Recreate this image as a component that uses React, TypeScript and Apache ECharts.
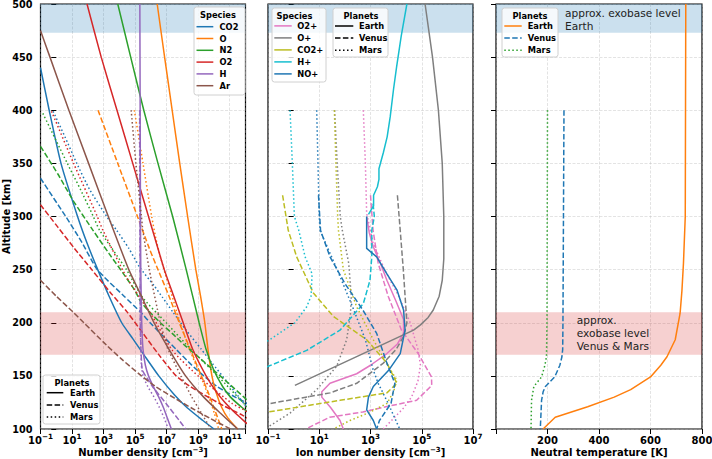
import { useEffect, useRef } from 'react';
import * as echarts from 'echarts';

type Pt = [number, number]; // [altitude km, value]

// ---------- Panel 1: neutral number density, [altitude km, log10 n (cm^-3)] ----------
const CO2_EARTH: Pt[] = [[440,-1],[400,-0.45],[350,0.3],[300,1.35],[275,1.95],[250,2.63],[225,3.35],[200,4.15],[185,4.85],[170,5.55],[150,6.5],[132,7.5],[120,8.3],[108,9.3],[100,10.0]];
const O_EARTH: Pt[] = [[500,6.4],[450,6.87],[400,7.35],[350,7.83],[300,8.33],[250,8.85],[225,9.15],[200,9.42],[175,9.62],[150,9.87],[135,10.12],[120,10.5],[110,10.9],[100,11.5]];
const N2_EARTH: Pt[] = [[500,3.9],[450,4.72],[400,5.55],[350,6.45],[300,7.38],[250,8.24],[200,9.06],[175,9.5],[155,10.0],[140,10.55],[130,11.05],[120,11.8],[112,12.5]];
const O2_EARTH: Pt[] = [[500,1.95],[450,2.85],[400,3.85],[350,4.85],[300,5.85],[250,6.85],[225,7.45],[200,8.05],[175,8.65],[150,9.5],[135,10.15],[125,10.7],[115,11.35],[107,11.95],[100,12.5]];
const H_EARTH: Pt[] = [[500,5.3],[400,5.32],[300,5.34],[250,5.36],[200,5.42],[175,5.5],[160,5.65],[150,5.85],[140,6.15],[130,6.5],[120,6.8],[110,7.05],[100,7.3]];
const AR_EARTH: Pt[] = [[475,-1],[450,-0.4],[400,0.8],[350,2.05],[300,3.3],[250,4.6],[225,5.4],[200,6.2],[175,7.15],[150,8.2],[130,9.35],[115,10.4],[100,11.5]];

const CO2_VENUS: Pt[] = [[336,-1],[300,0.6],[275,1.65],[250,2.6],[225,4.3],[210,5.35],[200,5.95],[190,6.6],[175,7.6],[160,8.6],[150,9.35],[140,10.2],[130,11.35],[125,12.0],[120,12.5]];
const O_VENUS: Pt[] = [[400,2.65],[350,3.9],[300,5.15],[270,5.9],[250,6.45],[225,7.15],[200,7.8],[175,8.5],[150,9.2],[135,9.62],[120,10.0],[100,10.5]];
const N2_VENUS: Pt[] = [[366,-1],[340,0.1],[315,1.07],[287,2.33],[265,3.35],[247,4.22],[230,5.0],[220,5.35],[212,5.8],[200,6.6],[190,7.35],[178,8.2],[168,9.0],[157,9.85],[146,10.7],[138,11.3],[130,11.9],[122,12.5]];
const O2_VENUS: Pt[] = [[311,-1],[290,0.1],[270,1.15],[250,2.25],[229,3.4],[210,4.5],[190,5.5],[170,6.5],[150,7.6],[140,8.5],[132,9.4],[122,10.6],[113,11.8],[106,12.6]];
const H_VENUS: Pt[] = [[400,5.3],[300,5.31],[200,5.33],[175,5.37],[160,5.42],[155,5.47],[148,5.75],[140,6.1],[124,6.96],[108,7.8],[100,8.2]];
const AR_VENUS: Pt[] = [[240,-1],[225,0.0],[210,1.07],[200,1.75],[179,3.18],[165,4.2],[150,5.4],[140,6.3],[129,7.5],[120,8.55],[110,9.75],[100,11.05]];

const CO2_MARS: Pt[] = [[399,-0.2],[375,0.55],[350,1.3],[325,2.13],[300,3.2],[287,3.83],[270,4.6],[252,5.3],[235,6.2],[224,6.73],[210,7.4],[193,8.24],[175,9.2],[162,9.88],[145,10.8],[124,11.9],[115,12.4]];
const O_MARS: Pt[] = [[400,4.95],[350,5.5],[300,6.05],[275,6.38],[250,6.83],[225,7.35],[200,7.85],[175,8.45],[150,9.15],[130,9.68],[115,10.02],[100,10.3]];
const N2_MARS: Pt[] = [[397,-0.85],[350,0.7],[325,1.55],[300,2.35],[287,2.75],[250,4.45],[224,5.46],[200,6.97],[174,8.6],[149,10.3],[124,11.9],[118,12.3]];
const O2_MARS: Pt[] = [[399,-0.3],[350,1.1],[300,2.6],[287,2.96],[243,4.45],[206,6.1],[174,7.36],[149,9.06],[124,11.15],[118,11.9],[112,12.5]];
const H_MARS: Pt[] = [[400,5.28],[300,5.3],[200,5.33],[160,5.4],[150,5.5],[140,5.8],[130,6.2],[120,6.55],[110,6.85],[100,7.1]];
const AR_MARS: Pt[] = [[400,4.75],[350,5.05],[300,5.4],[287,5.49],[250,5.9],[200,6.6],[175,7.1],[150,7.9],[130,8.6],[115,9.2],[100,9.8]];

// ---------- Panel 2: ion number density, [altitude km, log10 n (cm^-3)] ----------
const O2P_EARTH: Pt[] = [[300,2.85],[285,2.95],[272,3.1],[255,3.4],[240,3.64],[220,4.0],[203,4.29],[190,4.29],[180,4.05],[171,3.64],[160,3.0],[152,2.46],[143,1.42],[135,1.1],[130,1.1],[120,1.45],[108,1.81],[100,1.94]];
const OP_EARTH: Pt[] = [[500,5.13],[450,5.42],[400,5.65],[350,5.8],[300,5.86],[260,5.86],[240,5.8],[225,5.68],[212,5.45],[205,5.25],[198,4.95],[193,4.68],[141,0.05]];
const HP_EARTH: Pt[] = [[500,4.42],[470,4.2],[441,4.02],[420,3.9],[394,3.77],[375,3.65],[360,3.5],[345,3.33],[335,3.33],[328,3.27],[320,3.12],[310,3.12],[302,2.92]];
const NOP_EARTH: Pt[] = [[300,2.85],[270,2.85],[262,3.24],[246,3.64],[231,4.03],[212,4.29],[193,4.35],[171,4.16],[155,3.7],[140,3.11],[130,2.92],[118,2.85],[108,3.11],[100,3.24]];

const O2P_VENUS: Pt[] = [[320,3.0],[287,3.1],[256,3.3],[225,3.69],[193,4.21],[171,4.86],[149,5.38],[141,5.39],[127,4.8],[121,3.6],[116,2.7],[111,1.4],[102,0.64],[100,0.5]];
const OP_VENUS: Pt[] = [[320,4.05],[287,4.16],[250,4.28],[225,4.35],[200,4.42],[187,4.29],[175,4.0],[162,3.5],[150,2.85],[143,2.46],[134,1.42],[124,-0.92],[122,-1.2]];
const CO2P_VENUS: Pt[] = [[320,-0.43],[287,-0.21],[262,0.12],[228,0.77],[206,1.55],[184,2.85],[162,3.64],[143,4.03],[134,3.64],[127,1.81],[116,-0.99],[115,-1.2]];
const HP_VENUS: Pt[] = [[312,3.1],[300,3.15],[287,3.05],[262,3.05],[240,2.98],[218,2.72],[193,1.81],[174,0.51],[159,-0.99],[157,-1.2]];
const NOP_VENUS: Pt[] = [[320,0.97],[287,1.05],[262,1.42],[237,2.0],[212,2.7],[190,3.24],[162,3.64],[143,3.95],[124,3.8],[108,3.35],[100,3.24]];

const O2P_MARS: Pt[] = [[400,2.72],[350,2.8],[303,2.85],[275,3.1],[250,3.55],[225,4.1],[200,4.55],[175,4.85],[160,4.95],[145,4.85],[130,4.6],[120,4.3],[110,3.9],[100,3.5]];
const OP_MARS: Pt[] = [[400,1.6],[350,1.7],[300,1.82],[287,1.9],[256,2.15],[225,2.25],[209,2.22],[184,2.07],[159,1.68],[137,0.9],[115,-0.14],[102,-0.99],[100,-1.1]];
const CO2P_MARS: Pt[] = [[400,1.59],[350,1.65],[300,1.72],[287,1.75],[250,1.94],[215,2.46],[184,3.11],[156,3.77],[146,4.03],[135,3.9],[124,3.64],[115,2.9],[108,2.2],[100,1.55]];
const HP_MARS: Pt[] = [[400,-0.14],[350,-0.05],[300,0.03],[287,0.2],[262,0.45],[246,0.72],[225,0.68],[215,0.51],[200,0.05],[183,-1.0],[181,-1.2]];
const NOP_MARS: Pt[] = [[400,0.9],[350,0.95],[300,1.0],[287,1.03],[250,1.7],[215,2.3],[184,2.8],[156,3.1],[143,3.3],[124,3.69],[100,4.14]];

// ---------- Panel 3: neutral temperature, [altitude km, T (K)] ----------
const T_EARTH: Pt[] = [[500,737],[400,736],[300,735],[256,728],[230,722],[209,715],[184,696],[168,664],[160,640],[149,600],[137,523],[130,459],[121,356],[111,230],[100,183]];
const T_VENUS: Pt[] = [[400,264],[300,262],[200,260],[175,259],[168,256],[160,248],[149,228],[140,192],[135,183],[127,177],[100,172]];
const T_MARS: Pt[] = [[400,200],[300,199],[200,198],[168,196],[160,190],[149,177],[140,147],[127,138],[100,136]];

// exobase bands (km)
const EXOBASE_EARTH = [473, 500];
const EXOBASE_VENUS_MARS = [170, 210];

const NEUTRAL_SPECIES = ['CO2', 'O', 'N2', 'O2', 'H', 'Ar'];
const NEUTRAL_COLORS = ['#1f77b4', '#ff7f0e', '#2ca02c', '#d62728', '#9467bd', '#8c564b'];
const NEUTRAL_DATA: Pt[][][] = [
  [CO2_EARTH, CO2_VENUS, CO2_MARS],
  [O_EARTH, O_VENUS, O_MARS],
  [N2_EARTH, N2_VENUS, N2_MARS],
  [O2_EARTH, O2_VENUS, O2_MARS],
  [H_EARTH, H_VENUS, H_MARS],
  [AR_EARTH, AR_VENUS, AR_MARS],
];
const ION_SPECIES = ['O2+', 'O+', 'CO2+', 'H+', 'NO+'];
const ION_COLORS = ['#e377c2', '#7f7f7f', '#bcbd22', '#17becf', '#1f77b4'];
const ION_DATA: (Pt[] | null)[][] = [
  [O2P_EARTH, O2P_VENUS, O2P_MARS],
  [OP_EARTH, OP_VENUS, OP_MARS],
  [null, CO2P_VENUS, CO2P_MARS],
  [HP_EARTH, HP_VENUS, HP_MARS],
  [NOP_EARTH, NOP_VENUS, NOP_MARS],
];
const PLANETS = ['Earth', 'Venus', 'Mars'];
const TEMP_DATA = [T_EARTH, T_VENUS, T_MARS];
const TEMP_COLORS = ['#ff7f0e', '#1f77b4', '#2ca02c'];

const FONT = 'DejaVu Sans';
const DASHES: any[] = ['solid', [5.5, 2.4], [1.5, 2.5]];

function mkLine(data: Pt[], color: string, dash: any, idx: number, smooth: boolean) {
  return {
    type: 'line',
    xAxisIndex: idx,
    yAxisIndex: idx,
    data: data.map(([alt, v]) => [v, alt]),
    symbol: 'none',
    showSymbol: false,
    smooth: smooth ? 0.2 : false,
    lineStyle: { color, width: 1.5, type: dash },
    silent: true,
    clip: true,
    z: 3,
    animation: false,
  };
}

function bandSeries(idx: number) {
  return {
    type: 'line',
    xAxisIndex: idx,
    yAxisIndex: idx,
    data: [],
    silent: true,
    z: 1,
    markArea: {
      silent: true,
      data: [
        [{ yAxis: EXOBASE_EARTH[0], itemStyle: { color: 'rgba(31,119,180,0.23)' } }, { yAxis: EXOBASE_EARTH[1] }],
        [{ yAxis: EXOBASE_VENUS_MARS[0], itemStyle: { color: 'rgba(214,39,40,0.22)' } }, { yAxis: EXOBASE_VENUS_MARS[1] }],
      ],
    },
  };
}

const supRich = {
  b: { fontFamily: FONT, fontWeight: 'bold', fontSize: 10, color: '#000', verticalAlign: 'bottom', lineHeight: 12.5 },
  s: { fontFamily: FONT, fontWeight: 'bold', fontSize: 7.2, color: '#000', verticalAlign: 'top', lineHeight: 12.5 },
};
const nameRich = {
  n: { fontFamily: FONT, fontWeight: 'bold', fontSize: 10, color: '#000', verticalAlign: 'bottom', lineHeight: 11 },
  s: { fontFamily: FONT, fontWeight: 'bold', fontSize: 7, color: '#000', verticalAlign: 'top', lineHeight: 11 },
};

const splitLine = { show: true, lineStyle: { color: 'rgba(176,176,176,0.45)', width: 0.8, type: [3, 1.5] } };
const tick = { show: true, length: 5, lineStyle: { color: '#000', width: 1 } };

function logXAxis(idx: number, min: number, max: number, name: string) {
  return {
    type: 'value', gridIndex: idx, min, max, interval: 2,
    name, nameLocation: 'middle', nameGap: 17.5, nameMoveOverlap: false,
    nameTextStyle: { rich: nameRich, lineHeight: 11 },
    axisLine: { show: false },
    axisTick: tick,
    splitLine,
    axisLabel: {
      margin: 4,
      formatter: (v: number) => {
        if (Math.abs(((v - min) % 2)) > 1e-6) return '';
        const e = v < 0 ? '\u2212' + Math.abs(v) : String(v);
        return `{b|10}{s|${e}}`;
      },
      rich: supRich,
    },
  };
}

function yAxis(idx: number, labels: boolean) {
  return {
    type: 'value', gridIndex: idx, min: 100, max: 500, interval: 50,
    name: labels ? 'Altitude [km]' : '',
    nameLocation: 'middle', nameGap: 29, nameMoveOverlap: false,
    nameTextStyle: { fontFamily: FONT, fontWeight: 'bold', fontSize: 10, color: '#000', lineHeight: 11 },
    axisLine: { show: false },
    axisTick: tick,
    splitLine,
    axisLabel: { show: labels, margin: 8, fontFamily: FONT, fontWeight: 'bold', fontSize: 9.7, color: '#000' },
  };
}

function legendBox(x: number, y: number, w: number, h: number, title: string, titleX: number,
  entries: { label: string; color: string; dash: any }[], y0: number, dy: number, lx1: number, lx2: number, tx: number) {
  const els: any[] = [];
  els.push({ type: 'rect', z: 100, shape: { x, y, width: w, height: h, r: 2.5 },
    style: { fill: 'rgba(255,255,255,0.8)', stroke: '#d0d0d0', lineWidth: 1 } });
  els.push({ type: 'text', z: 101, x: titleX, y: y + 7.5,
    style: { text: title, fill: '#000', font: `bold 8.3px "${FONT}"`, align: 'center', verticalAlign: 'middle' } });
  entries.forEach((e, i) => {
    const yy = y0 + i * dy;
    els.push({ type: 'line', z: 101, shape: { x1: lx1, y1: yy, x2: lx2, y2: yy },
      style: { stroke: e.color, lineWidth: 1.5, lineDash: e.dash === 'solid' ? null : e.dash } });
    els.push({ type: 'text', z: 101, x: tx, y: yy,
      style: { text: e.label, fill: '#000', font: `bold 8.3px "${FONT}"`, align: 'left', verticalAlign: 'middle' } });
  });
  return els;
}

export default function App() {
  const ref = useRef<HTMLDivElement>(null);
  useEffect(() => {
    if (!ref.current) return;
    const chart = echarts.init(ref.current, undefined, { renderer: 'svg' });
    const series: any[] = [bandSeries(0), bandSeries(1), bandSeries(2)];
    NEUTRAL_DATA.forEach((planets, si) => {
      planets.forEach((d, pi) => series.push(mkLine(d, NEUTRAL_COLORS[si], DASHES[pi], 0, true)));
    });
    ION_DATA.forEach((planets, si) => {
      planets.forEach((d, pi) => { if (d) series.push(mkLine(d, ION_COLORS[si], DASHES[pi], 1, false)); });
    });
    TEMP_DATA.forEach((d, pi) => series.push(mkLine(d, TEMP_COLORS[pi], DASHES[pi], 2, false)));

    const black = PLANETS.map((p, i) => ({ label: p, color: '#000', dash: DASHES[i] }));
    const graphic: any[] = [
      ...legendBox(194, 7, 51, 88, 'Species', 218,
        NEUTRAL_SPECIES.map((s, i) => ({ label: s, color: NEUTRAL_COLORS[i], dash: 'solid' })), 26.7, 11.8, 196.5, 213.3, 219.5),
      ...legendBox(43, 375, 57, 49, 'Planets', 72, black, 392.7, 12.2, 46.7, 63.3, 70),
      ...legendBox(272, 8, 54, 74, 'Species', 294.5,
        ION_SPECIES.map((s, i) => ({ label: s, color: ION_COLORS[i], dash: 'solid' })), 25.9, 12.0, 274.3, 291.7, 297.3),
      ...legendBox(333, 8, 55, 49, 'Planets', 361, black, 26, 12.1, 335, 353.3, 359),
      ...legendBox(502, 8, 56, 49, 'Planets', 530,
        PLANETS.map((p, i) => ({ label: p, color: TEMP_COLORS[i], dash: DASHES[i] })), 26, 12.1, 504.3, 521.7, 527.7),
      { type: 'text', z: 102, x: 565, y: 6.6,
        style: { text: 'approx. exobase level\nEarth', fill: '#222', font: `10.6px "${FONT}"`, lineHeight: 12.7, align: 'left', verticalAlign: 'top' } },
      { type: 'text', z: 102, x: 576.7, y: 314,
        style: { text: 'approx.\nexobase level\nVenus & Mars', fill: '#222', font: `10.6px "${FONT}"`, lineHeight: 12.7, align: 'left', verticalAlign: 'top' } },
    ];

    chart.setOption({
      animation: false,
      backgroundColor: '#fff',
      textStyle: { fontFamily: FONT },
      grid: [
        { left: 40.5, top: 4, width: 205, height: 425, show: true, borderColor: '#000', borderWidth: 1.2, backgroundColor: 'transparent', containLabel: false, outerBoundsMode: 'none' },
        { left: 268, top: 4, width: 205, height: 425, show: true, borderColor: '#000', borderWidth: 1.2, backgroundColor: 'transparent', containLabel: false, outerBoundsMode: 'none' },
        { left: 496, top: 4, width: 206, height: 425, show: true, borderColor: '#000', borderWidth: 1.2, backgroundColor: 'transparent', containLabel: false, outerBoundsMode: 'none' },
      ],
      xAxis: [
        logXAxis(0, -1, 12, '{n|Number density [cm}{s|\u22123}{n|]}'),
        logXAxis(1, -1, 7, '{n|Ion number density [cm}{s|\u22123}{n|]}'),
        {
          type: 'value', gridIndex: 2, min: 0, max: 800, interval: 200,
          name: '{n|Neutral temperature [K]}', nameLocation: 'middle', nameGap: 17.5, nameMoveOverlap: false,
          nameTextStyle: { rich: nameRich, lineHeight: 11 },
          axisLine: { show: false }, axisTick: tick, splitLine,
          axisLabel: { margin: 4, formatter: (v: number) => (v === 0 ? '' : `{b|${v}}`), rich: supRich },
        },
      ],
      yAxis: [yAxis(0, true), yAxis(1, false), yAxis(2, false)],
      series,
      graphic,
    });
    return () => chart.dispose();
  }, []);
  return <div ref={ref} style={{ position: 'fixed', left: 0, top: 0, width: 712, height: 459 }} />;
}
